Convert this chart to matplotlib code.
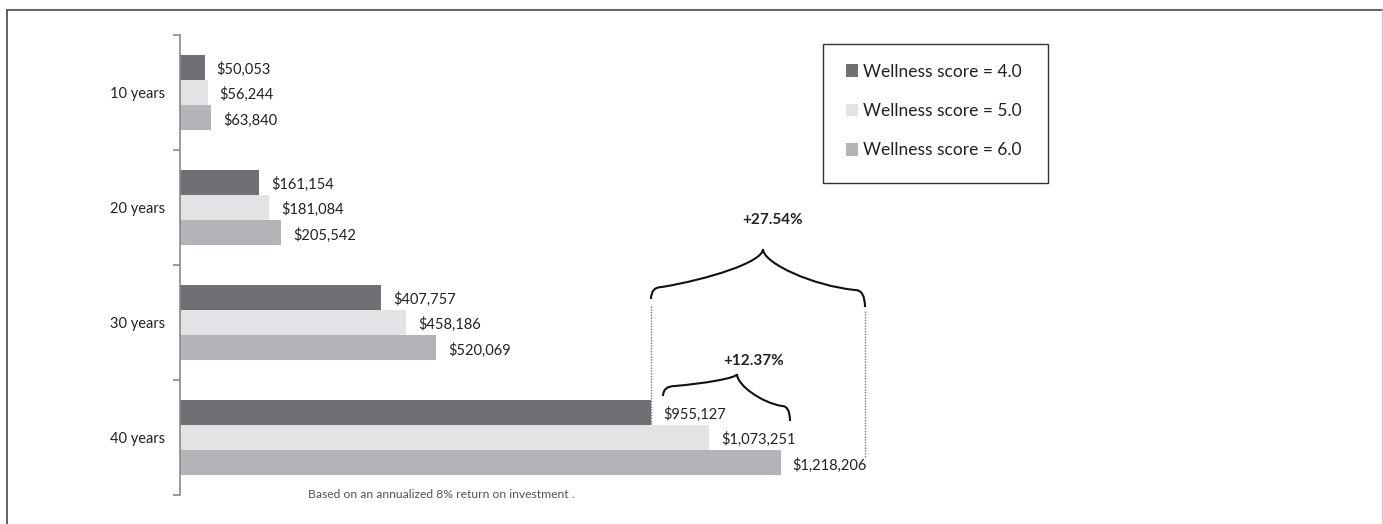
import numpy as np
import matplotlib.pyplot as plt
from matplotlib.patches import Rectangle, PathPatch
from matplotlib.path import Path
from matplotlib.lines import Line2D

plt.rcParams['font.family'] = ['Lato', 'DejaVu Sans']

categories = ['10 years', '20 years', '30 years', '40 years']
series_names = ['Wellness score = 4.0', 'Wellness score = 5.0', 'Wellness score = 6.0']
score_4 = [50053, 161154, 407757, 955127]
score_5 = [56244, 181084, 458186, 1073251]
score_6 = [63840, 205542, 520069, 1218206]
colors = ['#707074', '#e2e3e5', '#b3b4b7']
note = 'Based on an annualized 8% return on investment .'
gain_small = '+12.37%'
gain_large = '+27.54%'

fig = plt.figure(figsize=(13.83, 5.24), dpi=100)
W, H = 1383, 524

# outer frame
fig.add_artist(Line2D([7 / W, 7 / W], [0, 1 - 10 / H], color='#444444', lw=1.2))
fig.add_artist(Line2D([7 / W, 1382 / W], [1 - 10 / H, 1 - 10 / H], color='#666666', lw=1.5))
fig.add_artist(Line2D([1381.5 / W, 1381.5 / W], [0, 1 - 10 / H], color='#cccccc', lw=1.0))

ax = fig.add_axes([180 / W, 1 - 495 / H, 1190 / W, 460 / H])
px_per_dollar = 471 / 955127
ax.set_xlim(0, 1190 / px_per_dollar)
ax.set_ylim(3.5, -0.5)

y = np.arange(len(categories))
bh = 0.218
for i, (vals, col, name) in enumerate(zip([score_4, score_5, score_6], colors, series_names)):
    ax.barh(y + (i - 1) * bh, vals, height=bh, color=col, label=name)
    for yy, v in zip(y, vals):
        ax.text(v + 12 / px_per_dollar, yy + (i - 1) * bh + 0.02, '${:,}'.format(v),
                va='center', ha='left', fontsize=10.5, color='#222222')

for s in ['top', 'right', 'bottom']:
    ax.spines[s].set_visible(False)
ax.spines['left'].set_color('#8a8a8a')
ax.spines['left'].set_linewidth(1.2)
ax.set_xticks([])
ax.set_yticks(np.arange(-0.5, 4, 1))
ax.set_yticklabels([])
ax.tick_params(axis='y', which='major', length=5, color='#8a8a8a', width=1.2)
ax.set_yticks(y, minor=True)
ax.set_yticklabels(categories, minor=True, fontsize=10.5, color='#222222')
ax.tick_params(axis='y', which='minor', length=0, pad=10.8)

# legend
fig.add_artist(Rectangle((823 / W, 1 - 183 / H), 225 / W, 139 / H, transform=fig.transFigure,
                         fill=False, edgecolor='#333333', lw=1.0))
leg = fig.legend(loc='center', bbox_to_anchor=(934 / W, 1 - 111 / H), frameon=False,
                 fontsize=12.5, handlelength=0.65, handleheight=0.75, handletextpad=0.3,
                 labelspacing=1.35)
for t in leg.get_texts():
    t.set_color('#222222')


def brace(x0, yt0, ys0, x1, y1, x2, ys2, yt2, d0, d2):
    verts = [(x0, yt0), (x0, ys0), (x0 + d0, ys0),
             (x0 + d0 + 0.45 * (x1 - x0 - d0), ys0 - 0.2 * (ys0 - y1)), (x1, y1 + 0.35 * (ys0 - y1)), (x1, y1),
             (x1, y1 + 0.35 * (ys2 - y1)), (x2 - d2 - 0.45 * (x2 - d2 - x1), ys2 - 0.1 * (ys2 - y1)), (x2 - d2, ys2),
             (x2, ys2), (x2, yt2)]
    codes = [Path.MOVETO, Path.CURVE3, Path.CURVE3,
             Path.CURVE4, Path.CURVE4, Path.CURVE4,
             Path.CURVE4, Path.CURVE4, Path.CURVE4,
             Path.CURVE3, Path.CURVE3]
    ax.add_patch(PathPatch(Path(verts, codes), fill=False, lw=1.5, edgecolor='#111111',
                           clip_on=False))


def py(p):
    return (p - 35) / 115 - 0.5


def px(p):
    return (p - 180) / px_per_dollar


# large brace
brace(px(651), py(299), py(287), px(763), py(249), px(865), py(290), py(307), px(662) - px(651), px(865) - px(855))
ax.text(px(773), py(220), gain_large, ha='center', va='center', fontsize=11, fontweight='bold', color='#222222')
ax.plot([score_4[3], score_4[3]], [py(306), py(424)], ls=(0, (1, 1)), color='#777777', lw=1)
ax.plot([px(865), px(865)], [py(311), py(458)], ls=(0, (1, 1)), color='#777777', lw=1)

# small brace
brace(px(663), py(396), py(386), px(737), py(374), px(790), py(406), py(421), px(675) - px(663), px(790) - px(782))
ax.text(px(754), py(361), gain_small, ha='center', va='center', fontsize=11, fontweight='bold', color='#222222')

fig.text(441 / W, 1 - 495 / H, note, ha='center', va='center', fontsize=8.7, color='#555555')

fig.savefig('out.png', dpi=100)
